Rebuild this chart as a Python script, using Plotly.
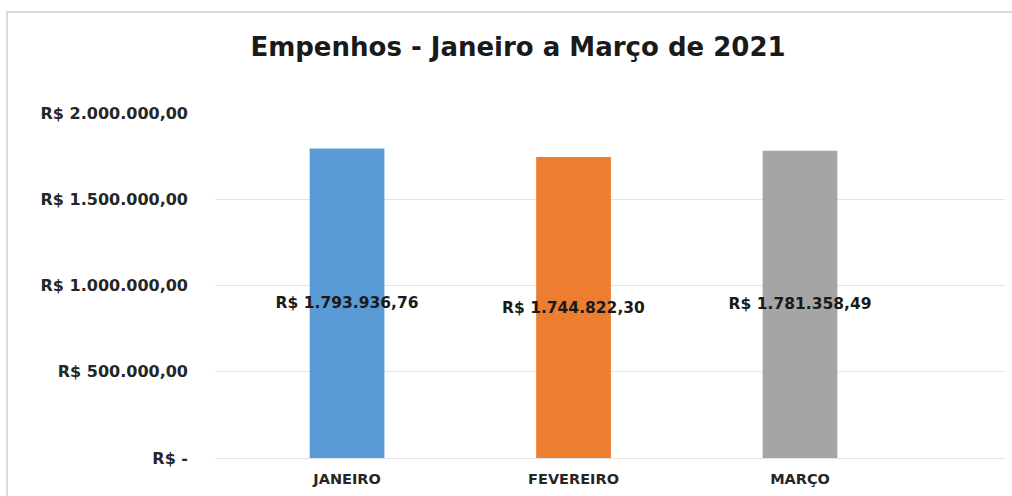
import plotly.graph_objects as go

categories = ["JANEIRO", "FEVEREIRO", "MARÇO"]
values = [1793936.76, 1744822.30, 1781358.49]
value_labels = ["R$ 1.793.936,76", "R$ 1.744.822,30", "R$ 1.781.358,49"]
colors = ["#5b9bd5", "#ed7d31", "#a5a5a5"]
tick_vals = [0, 500000, 1000000, 1500000, 2000000]
tick_text = ["R$ -", "R$ 500.000,00", "R$ 1.000.000,00", "R$ 1.500.000,00", "R$ 2.000.000,00"]

fig = go.Figure()
fig.add_trace(go.Bar(
    x=[0, 1, 2], y=values,
    marker=dict(color=colors, line=dict(width=0)),
    width=0.33,
    text=value_labels,
    textposition="inside",
    insidetextanchor="middle",
    constraintext="none",
    textangle=0,
    textfont=dict(family="DejaVu Sans", size=15.5, color="#1a1a1a", weight="bold"),
    hoverinfo="skip",
))

L, R, T, B = 215, 7, 113, 38
W, H = 1012, 496
pw = W - L - R
ph = H - T - B

fig.update_layout(
    width=W, height=H,
    margin=dict(l=L, r=R, t=T, b=B, pad=0),
    paper_bgcolor="white", plot_bgcolor="white",
    showlegend=False,
    title=dict(text="<b>Empenhos - Janeiro a Março de 2021</b>",
               x=518 / W, xref="container", xanchor="center",
               y=1 - 47 / H, yref="container", yanchor="middle",
               font=dict(family="DejaVu Sans", size=26, color="#1a1a1a")),
    xaxis=dict(
        tickmode="array", tickvals=[0, 1, 2], ticktext=categories,
        range=[-0.583, 2.905],
        showgrid=False, zeroline=False, showline=False, ticks="",
        tickfont=dict(family="DejaVu Sans", size=14.5, color="#262626", weight="bold"),
        ticklabelstandoff=10,
    ),
    yaxis=dict(
        range=[0, 2000000],
        tickmode="array", tickvals=tick_vals, ticktext=tick_text,
        showgrid=True, gridcolor="#e3e3e3", gridwidth=1,
        zeroline=True, zerolinecolor="#e3e3e3", zerolinewidth=1,
        showline=False, ticks="",
        tickfont=dict(family="DejaVu Sans", size=16, color="#262626", weight="bold"),
        ticklabelstandoff=26,
    ),
    shapes=[dict(type="rect", xref="paper", yref="paper",
                 x0=(7 - L) / pw, x1=(W + 5 - L) / pw,
                 y0=-(B + 5) / ph, y1=(H - 12 - B) / ph,
                 line=dict(color="#d0d0d0", width=1.5), fillcolor="rgba(0,0,0,0)",
                 layer="below")],
)

fig.write_html("out.html")
